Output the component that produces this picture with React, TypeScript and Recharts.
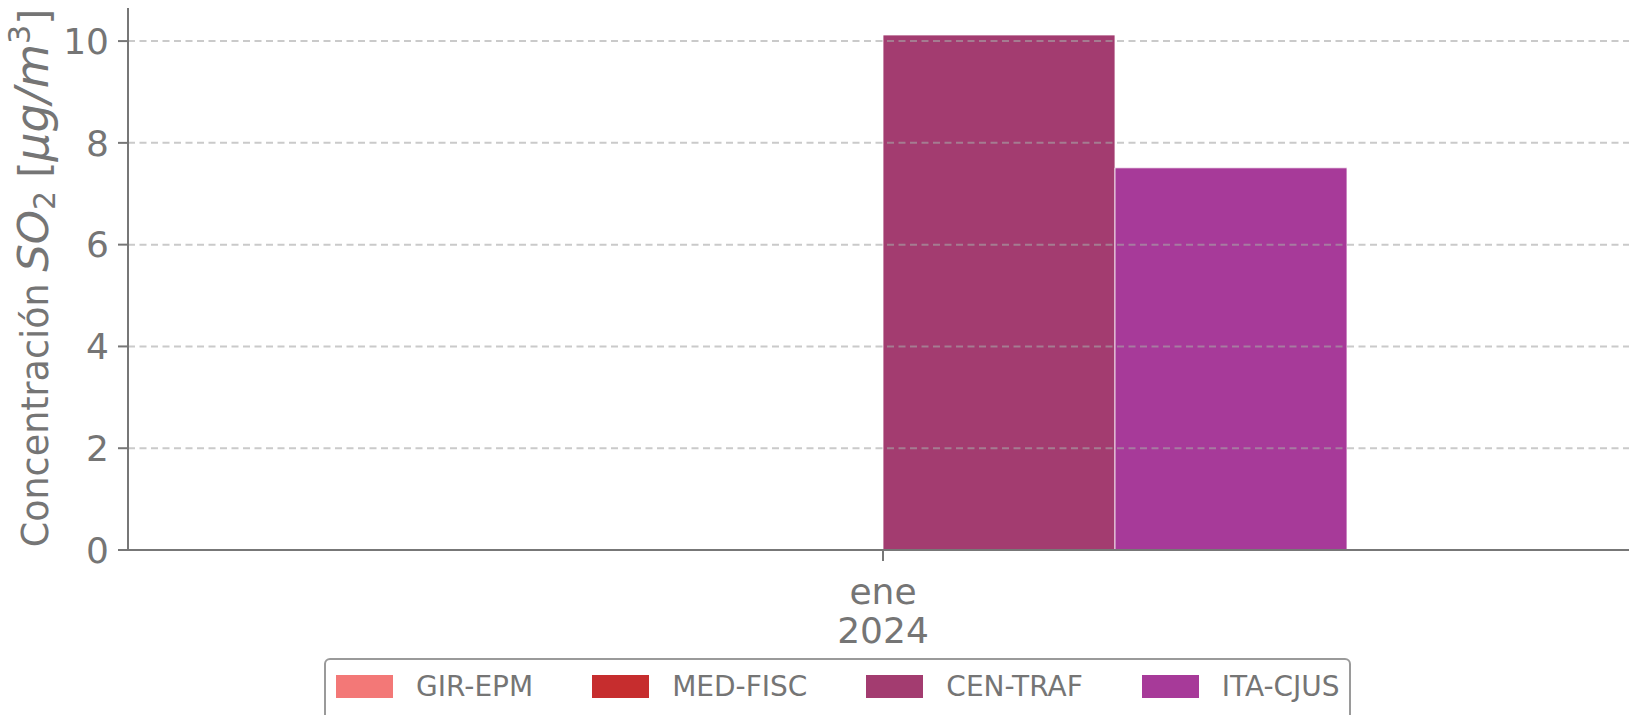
import React from 'react';
import { BarChart, Bar, XAxis, YAxis, ReferenceLine } from 'recharts';

const months = ['ene 2024'];
const monthLines = [['ene', '2024']];
const seriesNames = ['GIR-EPM', 'MED-FISC', 'CEN-TRAF', 'ITA-CJUS'];
const seriesColors = ['#F37877', '#C62D2E', '#A33C70', '#A73A99'];
const girEpm: (number | null)[] = [null];
const medFisc: (number | null)[] = [null];
const cenTraf: (number | null)[] = [10.12];
const itaCjus: (number | null)[] = [7.51];
const yTicks = [0, 2, 4, 6, 8, 10];
const yDomain: [number, number] = [0, 10.65];

const seriesValues = [girEpm, medFisc, cenTraf, itaCjus];
const data = months.map((m, i) => {
  const row: Record<string, any> = { month: m, idx: i };
  seriesNames.forEach((s, k) => {
    row[s] = seriesValues[k][i];
  });
  return row;
});

const TEXT = '#757575';
const AXIS = '#777777';
const FONT = '"DejaVu Sans", sans-serif';

const XTick = (props: any) => {
  const { x, y, payload } = props;
  const lines = monthLines[months.indexOf(payload.value)] || [payload.value];
  return (
    <text x={x} y={y} textAnchor="middle" fill={TEXT} fontSize={36} fontFamily={FONT}>
      {lines.map((l, i) => (
        <tspan key={i} x={x} dy={i === 0 ? 41 : 39}>{l}</tspan>
      ))}
    </text>
  );
};

const YLabel = () => {
  const x = 48;
  const y = 278;
  return (
    <text
      x={x}
      y={y}
      transform={`rotate(-90, ${x}, ${y})`}
      textAnchor="middle"
      fill={TEXT}
      fontSize={36.5}
      fontFamily={FONT}
    >
      <tspan>Concentración </tspan>
      <tspan fontStyle="italic" fontSize={43.5}>SO</tspan>
      <tspan fontSize={30} dy={7}>2</tspan>
      <tspan dy={-7} fontSize={41.5}> [</tspan>
      <tspan fontStyle="italic" fontSize={45.5}>μg/m</tspan>
      <tspan fontSize={30} dy={-18}>3</tspan>
      <tspan dy={18} fontSize={41.5}>]</tspan>
    </text>
  );
};

export default function App() {
  return (
    <div
      style={{
        position: 'absolute',
        left: 0,
        top: 0,
        width: 1629,
        height: 715,
        overflow: 'hidden',
        background: '#ffffff',
      }}
    >
      <BarChart
        width={1640}
        height={715}
        data={data}
        margin={{ top: 8, right: 2, bottom: 0, left: 0 }}
        barGap={0}
        barSize={232}
      >
        <XAxis
          dataKey="month"
          type="category"
          height={165}
          tick={<XTick />}
          tickSize={11}
          tickMargin={2}
          axisLine={{ stroke: AXIS, strokeWidth: 2 }}
          tickLine={{ stroke: AXIS, strokeWidth: 2 }}
          interval={0}
        />
        <YAxis
          type="number"
          width={128}
          domain={yDomain}
          ticks={yTicks}
          allowDataOverflow
          tickSize={10}
          tickMargin={9}
          tick={{ fill: TEXT, fontSize: 36, fontFamily: FONT }}
          axisLine={{ stroke: AXIS, strokeWidth: 2 }}
          tickLine={{ stroke: AXIS, strokeWidth: 2 }}
          label={<YLabel />}
        />
        {seriesNames.map((s, k) => (
          <Bar
            key={s}
            dataKey={s}
            fill={seriesColors[k]}
            stroke="#ffffff"
            strokeWidth={0.8}
            isAnimationActive={false}
          />
        ))}
        {yTicks
          .filter((t) => t > 0)
          .map((t) => (
            <ReferenceLine
              key={t}
              y={t}
              stroke="#a7a7a7"
              strokeOpacity={0.6}
              strokeWidth={2}
              strokeDasharray="7 4.5"
            />
          ))}
      </BarChart>
      <div
        style={{
          position: 'absolute',
          left: 324,
          top: 658,
          width: 1027,
          height: 80,
          boxSizing: 'border-box',
          border: '2px solid #9a9a9a',
          borderRadius: 6,
          background: '#ffffff',
          display: 'flex',
          alignItems: 'flex-start',
          paddingLeft: 10,
          paddingTop: 15,
          fontFamily: FONT,
          fontSize: 28,
          color: TEXT,
        }}
      >
        {seriesNames.map((s, k) => (
          <div
            key={s}
            style={{
              display: 'flex',
              alignItems: 'center',
              marginRight: k < seriesNames.length - 1 ? 59 : 0,
              height: 23,
            }}
          >
            <div style={{ width: 57, height: 23, background: seriesColors[k], marginRight: 23 }} />
            <span style={{ lineHeight: '23px', whiteSpace: 'nowrap' }}>{s}</span>
          </div>
        ))}
      </div>
    </div>
  );
}
